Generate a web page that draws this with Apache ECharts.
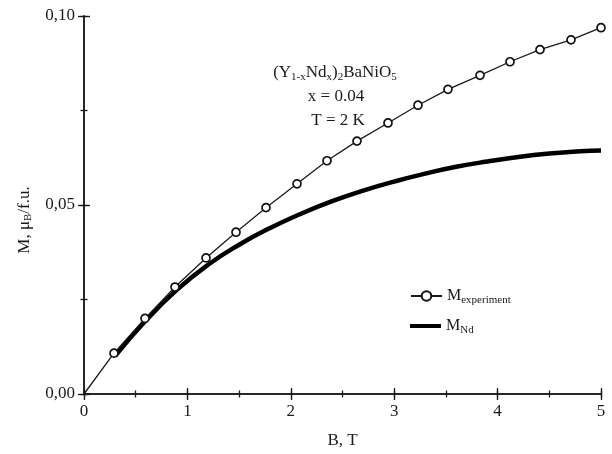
<!DOCTYPE html>
<html><head><meta charset="utf-8">
<script src="https://cdn.jsdelivr.net/npm/echarts@6/dist/echarts.min.js"></script>
<style>html,body{margin:0;padding:0;background:#fff}#c{width:612px;height:454px}</style>
</head><body><div id="c"></div>
<script>
var bExp = [0, 0.29, 0.59, 0.88, 1.18, 1.47, 1.76, 2.06, 2.35, 2.64, 2.94, 3.23, 3.52, 3.83, 4.12, 4.41, 4.71, 5.0];
var mExp = [0, 0.0108, 0.0200, 0.0283, 0.0360, 0.0428, 0.0493, 0.0556, 0.0617, 0.0669, 0.0717, 0.0764, 0.0806, 0.0843, 0.0879, 0.0911, 0.0937, 0.0969];
var bNd = [0.3, 0.6, 0.9, 1.2, 1.5, 1.8, 2.1, 2.4, 2.7, 3.0, 3.3, 3.6, 3.9, 4.2, 4.5, 4.8, 5.0];
var mNd = [0.0100, 0.0195, 0.0276, 0.0342, 0.0395, 0.0439, 0.0477, 0.0510, 0.0538, 0.0562, 0.0583, 0.0601, 0.0615, 0.0627, 0.0636, 0.0642, 0.0644];
var xTicks = ['0', '1', '2', '3', '4', '5'];
var yTicks = ['0,00', '0,05', '0,10'];

var F = 'Liberation Serif';
var C = '#1a1a1a';
var expData = bExp.map(function (b, i) {
  var d = {value: [b, mExp[i]]};
  if (i === 0) d.symbol = 'none';
  return d;
});
var ndData = bNd.map(function (b, i) { return [b, mNd[i]]; });

function ax(dim, pos, major, labels) {
  var isX = dim === 'x';
  var o = {
    type: 'value', position: pos,
    min: 0, max: isX ? 5 : 0.1,
    interval: isX ? (major ? 1 : 0.5) : (major ? 0.05 : 0.025),
    axisLine: {show: major, lineStyle: {color: C, width: 1.5}},
    axisTick: {show: true, inside: true, length: major ? 6 : 3.5, lineStyle: {color: C, width: 1.3}},
    splitLine: {show: false},
    axisLabel: {show: labels, fontFamily: F, fontSize: 17, color: C, margin: 9,
      formatter: function (v) { return isX ? xTicks[Math.round(v)] : yTicks[Math.round(v / 0.05)]; }}
  };
  if (labels && isX) {
    o.name = 'B, T'; o.nameLocation = 'middle'; o.nameGap = 38;
    o.nameTextStyle = {fontFamily: F, fontSize: 17, color: C};
  }
  if (labels && !isX) {
    o.name = '{a|M, μ}{s|B}{a|/f.u.}'; o.nameLocation = 'middle'; o.nameGap = 50; o.nameRotate = 90;
    o.nameTextStyle = {fontFamily: F, fontSize: 17, color: C, padding: [0, 30, 0, 0],
      rich: {a: {fontFamily: F, fontSize: 17, color: C},
             s: {fontFamily: F, fontSize: 11, color: C, padding: [8, 0, 0, 0]}}};
  }
  return o;
}

var legText = {fontFamily: F, fontSize: 16, color: C,
  rich: {m: {fontFamily: F, fontSize: 16, color: C},
         s: {fontFamily: F, fontSize: 11, color: C, padding: [9, 0, 0, 0]}}};

var chart = echarts.init(document.getElementById('c'), null, {renderer: 'canvas'});
chart.setOption({
  animation: false,
  backgroundColor: '#fff',
  grid: {left: 84, right: 11, top: 16, bottom: 57},
  xAxis: [ax('x', 'bottom', true, true), ax('x', 'bottom', false, false),
          ax('x', 'top', true, false), ax('x', 'top', false, false)],
  yAxis: [ax('y', 'left', true, true), ax('y', 'left', false, false),
          ax('y', 'right', true, false), ax('y', 'right', false, false)],
  legend: [
    {left: 410, top: 288, padding: 0, itemWidth: 31, itemHeight: 12, itemGap: 0,
      data: [{name: 'exp'}], textStyle: legText,
      formatter: function () { return '{m|M}{s|experiment}'; }},
    {left: 410, top: 318, padding: 0, itemWidth: 31, itemHeight: 4, itemGap: 0,
      data: [{name: 'nd', icon: 'rect'}], textStyle: legText,
      formatter: function () { return '{m|M}{s|Nd}'; }}
  ],
  graphic: [
    {type: 'text', x: 335, y: 62, style: {
      text: '{a|(Y}{s|1-x}{a|Nd}{s|x}{a|)}{s|2}{a|BaNiO}{s|5}', align: 'center',
      rich: {a: {fontFamily: F, fontSize: 17, fill: C},
             s: {fontFamily: F, fontSize: 11, fill: C, padding: [10, 0, 0, 0]}}}},
    {type: 'text', x: 336, y: 88, style: {text: 'x = 0.04', align: 'center', fontFamily: F, fontSize: 17, fill: C}},
    {type: 'text', x: 338, y: 112, style: {text: 'T = 2 K', align: 'center', fontFamily: F, fontSize: 17, fill: C}}
  ],
  series: [
    {name: 'nd', type: 'line', data: ndData, smooth: true, showSymbol: false, symbol: 'none',
      lineStyle: {color: '#000', width: 4.5}, itemStyle: {color: '#000'}, z: 2},
    {name: 'exp', type: 'line', data: expData, symbol: 'circle', symbolSize: 8, showSymbol: true,
      lineStyle: {color: C, width: 1.3},
      itemStyle: {color: '#fff', borderColor: '#111', borderWidth: 1.7}, z: 3}
  ]
});
</script></body></html>
